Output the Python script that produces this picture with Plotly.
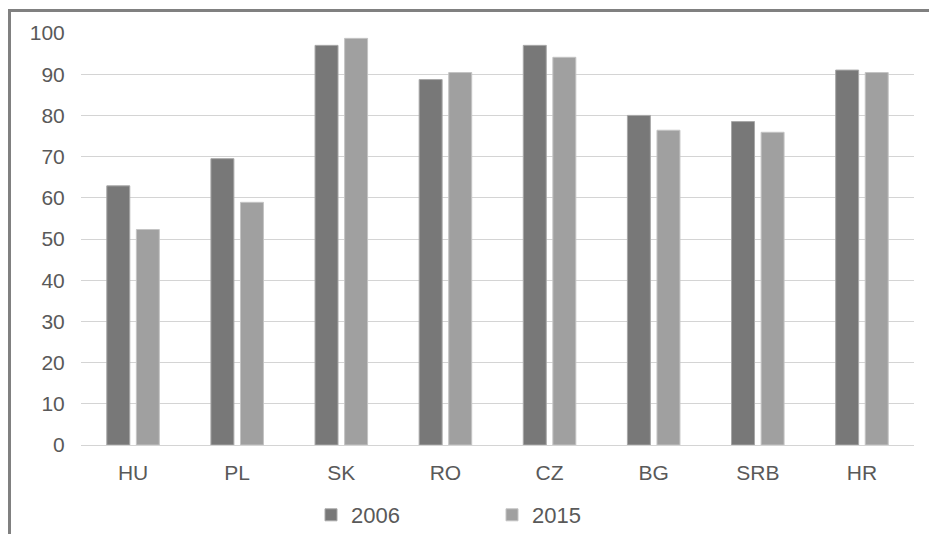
import plotly.graph_objects as go

countries = ["HU", "PL", "SK", "RO", "CZ", "BG", "SRB", "HR"]
values_2006 = [62.9, 69.5, 97.0, 88.7, 97.0, 80.0, 78.5, 91.0]
values_2015 = [52.3, 58.9, 98.7, 90.4, 94.1, 76.4, 75.9, 90.4]
y_ticks = [0, 10, 20, 30, 40, 50, 60, 70, 80, 90, 100]

FONT = "Liberation Sans, Arial, sans-serif"
TXT = "#595959"

fig = go.Figure()
fig.add_trace(go.Bar(x=countries, y=values_2006, name="2006",
                     marker=dict(color="#787878", line=dict(color="#a8a8a8", width=1))))
fig.add_trace(go.Bar(x=countries, y=values_2015, name="2015",
                     marker=dict(color="#a0a0a0", line=dict(color="#c4c4c4", width=1))))

L, R, T, B = 81, 15, 33, 89
W, H = 929, 534
pw, ph = W - L - R, H - T - B

def px_x(px):
    return (px - L) / pw

def px_y(py):
    return (H - B - py) / ph

fig.update_layout(
    width=W, height=H,
    margin=dict(l=L, r=R, t=T, b=B, pad=0, autoexpand=False),
    paper_bgcolor="white", plot_bgcolor="white",
    barmode="group", bargap=0.432, bargroupgap=0.223,
    font=dict(family=FONT, size=21, color=TXT),
    showlegend=True,
    legend=dict(orientation="h", x=px_x(311), xanchor="left",
                y=px_y(515), yanchor="middle",
                font=dict(family=FONT, size=22, color=TXT),
                entrywidth=136, entrywidthmode="pixels",
                bgcolor="rgba(0,0,0,0)"),
    xaxis=dict(showgrid=False, ticks="outside", ticklen=9, tickcolor="rgba(0,0,0,0)",
               showline=False, zeroline=False,
               tickfont=dict(family=FONT, size=21, color=TXT)),
    yaxis=dict(range=[0, 100], tickvals=y_ticks, showgrid=True, gridcolor="#d4d4d4",
               gridwidth=1, zeroline=True, zerolinecolor="#d4d4d4", zerolinewidth=1,
               showline=False, ticks="outside", ticklen=11, tickcolor="rgba(0,0,0,0)",
               tickfont=dict(family=FONT, size=21, color=TXT)),
    shapes=[
        dict(type="line", xref="paper", yref="paper",
             x0=px_x(9.5), x1=px_x(935), y0=px_y(10.5), y1=px_y(10.5),
             line=dict(color="#808080", width=3)),
        dict(type="line", xref="paper", yref="paper",
             x0=px_x(9.5), x1=px_x(9.5), y0=px_y(9), y1=px_y(540),
             line=dict(color="#808080", width=3)),
    ],
)

fig.write_html("out.html", config={"displayModeBar": False},
               post_script="document.body.style.margin='0px';")
